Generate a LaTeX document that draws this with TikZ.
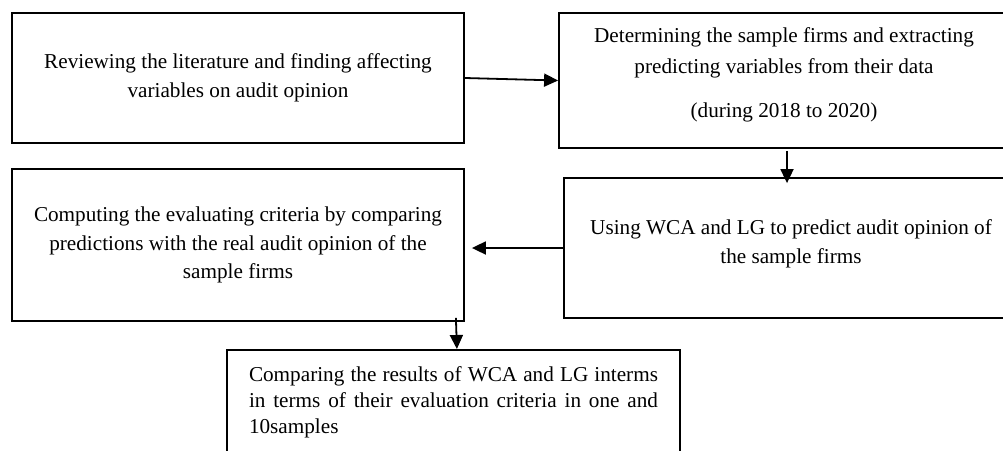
\documentclass[tikz,border=0pt]{standalone}
\usepackage{fontspec}
\setmainfont{Liberation Serif}
\usetikzlibrary{arrows.meta,calc}
\setlength\parindent{0pt}

\begin{document}
\begin{tikzpicture}[x=1pt,y=-1pt,
  stepbox/.style={draw, line width=1.8pt, align=center, inner sep=0pt,
    font=\fontsize{21.2}{28.5}\selectfont},
  arr/.style={line width=1.8pt, -{Triangle[length=14pt,width=13pt]}}]
\useasboundingbox (0,0) rectangle (1003,450);
\clip (0,0) rectangle (1003,450);

% the five steps
\node[stepbox, minimum width=452pt, minimum height=130pt] (review) at (238,78)
  {Reviewing the literature and finding affecting\\variables on audit opinion};
\node[stepbox, minimum width=450pt, minimum height=135pt] (firms) at (784,80.5)
  {Determining the sample firms and extracting\\[2.5pt]predicting variables from their data\\[15.5pt](during 2018 to 2020)\rule[-15pt]{0pt}{15pt}};
\node[stepbox, minimum width=454pt, minimum height=140pt] (predict) at (791,248)
  {Using WCA and LG to predict audit opinion of\\the sample firms\rule[-13pt]{0pt}{13pt}};
\node[stepbox, minimum width=452pt, minimum height=152pt] (criteria) at (238,245)
  {Computing the evaluating criteria by comparing\\predictions with the real audit opinion of the\\sample firms};
\node[stepbox, align=justify, text width=409pt, inner xsep=22pt, inner ysep=17pt,
  anchor=north, font=\fontsize{21.2}{26}\selectfont] (compare) at (453.5,349)
  {Comparing the results of WCA and LG interms\linebreak in terms of their evaluation criteria in one and\linebreak 10samples\rule[-80pt]{0pt}{0pt}};

% arrows
\draw[arr] (review.east) -- (firms.west);
\draw[arr] ($(firms.south)+(3,2)$) -- ($(predict.north)+(-4,6)$);
\draw[arr] (predict.west) -- ($(criteria.east |- predict.west)+(7,0)$);
\draw[arr] ($(criteria.south east)+(-9,-4)$) -- ($(criteria.south east |- compare.north)+(-8,0)$);

\end{tikzpicture}
\end{document}
